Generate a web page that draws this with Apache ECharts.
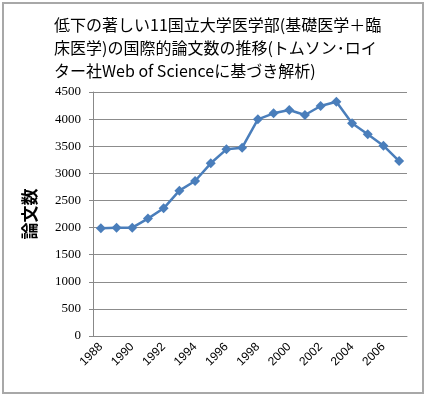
<!DOCTYPE html>
<html>
<head>
<meta charset="utf-8">
<script src="https://cdn.jsdelivr.net/npm/echarts@6/dist/echarts.min.js"></script>
<style>
  html, body { margin: 0; padding: 0; background: #fff; }
  #main { width: 427px; height: 398px; }
</style>
</head>
<body>
<div id="main"></div>
<script>
// 年
const years = ['1988', '1989', '1990', '1991', '1992', '1993', '1994', '1995', '1996', '1997',
  '1998', '1999', '2000', '2001', '2002', '2003', '2004', '2005', '2006', '2007'];
// 論文数
const papers = [1985, 1997, 1998, 2165, 2355, 2680, 2858, 3185, 3443, 3473,
  3996, 4107, 4168, 4076, 4242, 4321, 3922, 3720, 3510, 3227];
const titleText = '低下の著しい11国立大学医学部(基礎医学＋臨\n床医学)の国際的論文数の推移(トムソン･ロイ\nター社Web of Scienceに基づき解析)';

let myChart = echarts.init(document.getElementById('main'));
myChart.setOption({
  animation: false,
  backgroundColor: '#fff',
  title: {
    text: titleText,
    left: 49,
    top: 8,
    textStyle: {
      fontFamily: 'Noto Sans CJK JP',
      fontSize: 16,
      fontWeight: 'normal',
      color: '#000',
      lineHeight: 23
    }
  },
  graphic: [{
    type: 'rect',
    shape: { x: 3, y: 3, width: 420, height: 390 },
    style: { fill: 'none', stroke: '#a8a8a8', lineWidth: 2 },
    silent: true
  }],
  grid: {
    left: 93,
    right: 20,
    top: 92,
    bottom: 62
  },
  xAxis: {
    type: 'category',
    data: years,
    boundaryGap: true,
    axisLine: { lineStyle: { color: '#888', width: 1 } },
    axisTick: { show: false },
    axisLabel: {
      interval: 1,
      rotate: 45,
      margin: 9,
      color: '#000',
      fontFamily: 'Liberation Sans',
      fontSize: 12
    }
  },
  yAxis: {
    type: 'value',
    min: 0,
    max: 4500,
    interval: 500,
    name: '論文数',
    nameLocation: 'middle',
    nameGap: 55,
    nameRotate: 90,
    nameTextStyle: {
      fontFamily: 'Noto Sans CJK JP',
      fontSize: 17,
      fontWeight: 'bold',
      color: '#000'
    },
    axisLine: { show: true, lineStyle: { color: '#888', width: 1 } },
    axisTick: { show: true, length: 4, lineStyle: { color: '#888' } },
    axisLabel: {
      margin: 12,
      color: '#000',
      fontFamily: 'Liberation Serif',
      fontSize: 13,
      formatter: function (v) { return String(v); }
    },
    splitLine: { lineStyle: { color: '#8c8c8c', width: 1 } }
  },
  series: [{
    name: '論文数',
    type: 'line',
    data: papers,
    symbol: 'diamond',
    symbolSize: 10,
    lineStyle: { color: '#4a7ebb', width: 2.5 },
    itemStyle: { color: '#4a7ebb' }
  }]
});
</script>
</body>
</html>
